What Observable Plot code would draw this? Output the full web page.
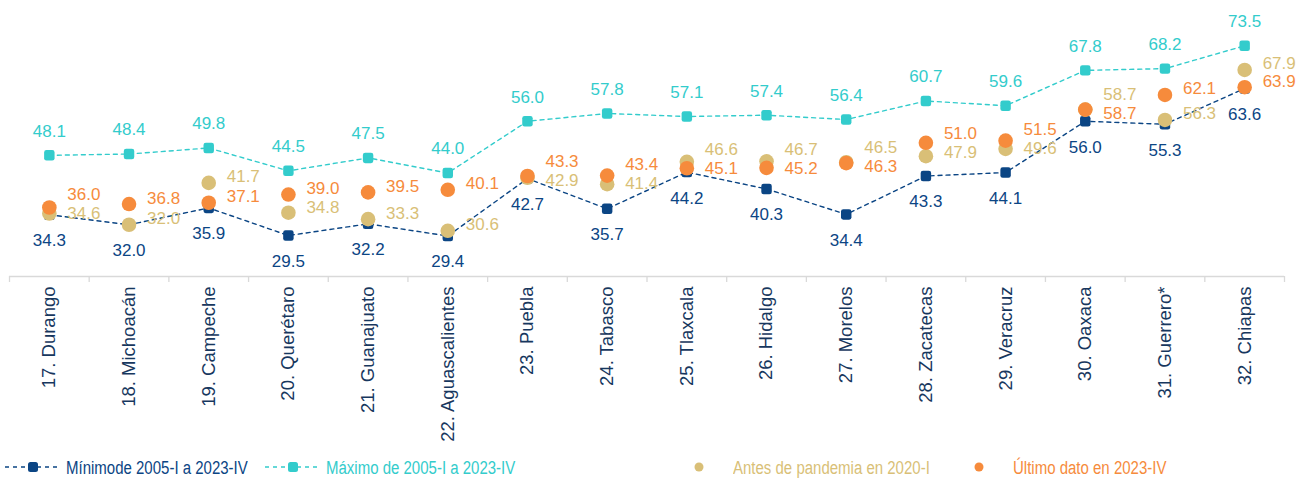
<!DOCTYPE html>
<html>
<head>
<meta charset="utf-8">
<script src="https://cdn.jsdelivr.net/npm/d3@7"></script>
<script src="https://cdn.jsdelivr.net/npm/@observablehq/plot@0.6"></script>
<style>
  html, body { margin: 0; padding: 0; background: #fff; }
  #chart { width: 1309px; }
  #legend { position: relative; width: 1309px; height: 28px; font-family: "Liberation Sans", Arial, sans-serif; font-size: 15px; }
  #legend .item { position: absolute; top: 3px; height: 28px; display: flex; align-items: center; white-space: nowrap; }
  #legend .item span { display: inline-block; transform: scaleY(1.2); transform-origin: 50% 50%; }
  #legend svg { display: block; }
</style>
</head>
<body>
<div id="chart"></div>
<div id="legend"></div>
<script>
const categories = ["17. Durango","18. Michoacán","19. Campeche","20. Querétaro","21. Guanajuato","22. Aguascalientes","23. Puebla","24. Tabasco","25. Tlaxcala","26. Hidalgo","27. Morelos","28. Zacatecas","29. Veracruz","30. Oaxaca","31. Guerrero*","32. Chiapas"];
const minimo = [34.3, 32.0, 35.9, 29.5, 32.2, 29.4, 42.7, 35.7, 44.2, 40.3, 34.4, 43.3, 44.1, 56.0, 55.3, 63.6];
const maximo = [48.1, 48.4, 49.8, 44.5, 47.5, 44.0, 56.0, 57.8, 57.1, 57.4, 56.4, 60.7, 59.6, 67.8, 68.2, 73.5];
const antes  = [34.6, 32.0, 41.7, 34.8, 33.3, 30.6, 42.9, 41.4, 46.6, 46.7, 46.5, 47.9, 49.6, 58.7, 56.3, 67.9];
const ultimo = [36.0, 36.8, 37.1, 39.0, 39.5, 40.1, 43.3, 43.4, 45.1, 45.2, 46.3, 51.0, 51.5, 58.7, 62.1, 63.9];
const seriesNames = ["Mínimode 2005-I a 2023-IV", "Máximo de 2005-I a 2023-IV", "Antes de pandemia en 2020-I", "Último dato en 2023-IV"];

const C_MIN = "#0b4584", C_MAX = "#33cccc", C_ANT = "#d9bf77", C_ULT = "#f68b3c", C_CAT = "#17375e";
const FONT = "'Liberation Sans', Arial, sans-serif";

const rows = categories.map((c, i) => ({i, c, min: minimo[i], max: maximo[i], ant: antes[i], ult: ultimo[i]}));

// label placement for the two right-side labels (avoid overlap)
const GAP = 4.4;
rows.forEach(r => {
  const d = Math.abs(r.ant - r.ult);
  if (d < GAP) {
    const mid = (r.ant + r.ult) / 2;
    const antHigher = r.ant >= r.ult;
    r.antL = antHigher ? mid + GAP / 2 : mid - GAP / 2;
    r.ultL = antHigher ? mid - GAP / 2 : mid + GAP / 2;
  } else { r.antL = r.ant; r.ultL = r.ult; }
});

const roundSquare = {
  draw(context, size) {
    const s = Math.sqrt(size), h = s / 2, k = s * 0.22;
    context.moveTo(-h + k, -h);
    context.lineTo(h - k, -h);
    context.arcTo(h, -h, h, -h + k, k);
    context.lineTo(h, h - k);
    context.arcTo(h, h, h - k, h, k);
    context.lineTo(-h + k, h);
    context.arcTo(-h, h, -h, h - k, k);
    context.lineTo(-h, -h + k);
    context.arcTo(-h, -h, -h + k, -h, k);
    context.closePath();
  }
};

const fmt = d3.format(".1f");

const chart = Plot.plot({
  width: 1309,
  height: 450,
  marginLeft: 9,
  marginRight: 25,
  marginTop: 0,
  marginBottom: 174,
  style: {fontFamily: FONT, fontSize: "17px", background: "#fff"},
  x: {domain: [-0.5, categories.length - 0.5], axis: null},
  y: {domain: [20, 84], axis: null},
  marks: [
    Plot.ruleY([20], {stroke: "#d9d9d9", strokeWidth: 1.3}),
    Plot.ruleX(d3.range(-0.5, categories.length, 1), {x: d => d, y1: 20, y2: 20, insetBottom: -6, stroke: "#d9d9d9", strokeWidth: 1.3}),
    Plot.text(rows, {x: "i", y: 20, text: "c", rotate: -90, textAnchor: "end", dy: 10, fill: C_CAT, fontSize: 18.5}),
    Plot.line(rows, {x: "i", y: "max", stroke: C_MAX, strokeWidth: 1.4, strokeDasharray: "4,4"}),
    Plot.line(rows, {x: "i", y: "min", stroke: C_MIN, strokeWidth: 1.4, strokeDasharray: "4,4"}),
    Plot.dot(rows, {x: "i", y: "max", fill: C_MAX, symbol: roundSquare, r: 5.9}),
    Plot.dot(rows, {x: "i", y: "min", fill: C_MIN, symbol: roundSquare, r: 5.9}),
    Plot.dot(rows, {x: "i", y: "ant", fill: C_ANT, r: 7.3}),
    Plot.dot(rows, {x: "i", y: "ult", fill: C_ULT, r: 7.3}),
    Plot.text(rows, {x: "i", y: "max", text: d => fmt(d.max), dy: -24, fill: C_MAX, fontSize: 17}),
    Plot.text(rows, {x: "i", y: "min", text: d => fmt(d.min), dy: 26, fill: C_MIN, fontSize: 17}),
    Plot.text(rows, {x: "i", y: "antL", text: d => fmt(d.ant), dx: 18, dy: -6, textAnchor: "start", fill: C_ANT, fontSize: 17}),
    Plot.text(rows, {x: "i", y: "ultL", text: d => fmt(d.ult), dx: 18, dy: -6, textAnchor: "start", fill: C_ULT, fontSize: 17})
  ]
});
document.getElementById("chart").appendChild(chart);

// legend
const legendItems = [
  {name: seriesNames[0], color: C_MIN, type: "line", left: 5},
  {name: seriesNames[1], color: C_MAX, type: "line", left: 265},
  {name: seriesNames[2], color: C_ANT, type: "dot", left: 690},
  {name: seriesNames[3], color: C_ULT, type: "dot", left: 970}
];
const legend = d3.select("#legend");
legendItems.forEach(it => {
  const item = legend.append("div").attr("class", "item").style("left", it.left + "px");
  if (it.type === "line") {
    const s = item.append("svg").attr("width", 56).attr("height", 20);
    s.append("line").attr("x1", 0).attr("x2", 56).attr("y1", 10).attr("y2", 10)
      .attr("stroke", it.color).attr("stroke-width", 1.4).attr("stroke-dasharray", "4,4");
    s.append("rect").attr("x", 23).attr("y", 5).attr("width", 10).attr("height", 10).attr("rx", 2.5).attr("fill", it.color);
    item.append("span").style("margin-left", "5px").style("color", it.color).text(it.name);
  } else {
    const s = item.append("svg").attr("width", 18).attr("height", 20);
    s.append("circle").attr("cx", 9).attr("cy", 10).attr("r", 4.5).attr("fill", it.color);
    item.append("span").style("margin-left", "25px").style("color", it.color).text(it.name);
  }
});
</script>
</body>
</html>
